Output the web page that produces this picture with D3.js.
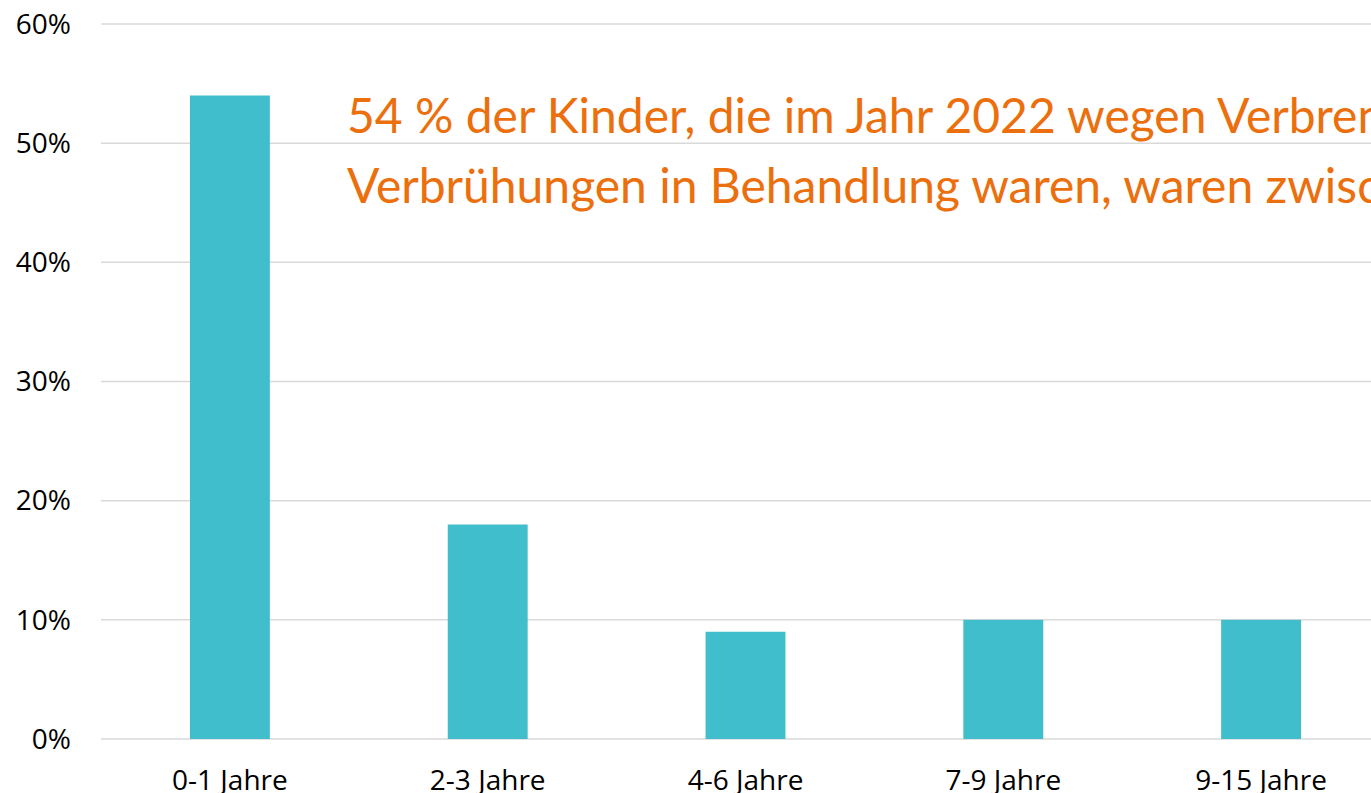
<!DOCTYPE html>
<html>
<head>
<meta charset="utf-8">
<script src="https://cdn.jsdelivr.net/npm/d3@7"></script>
<style>
  html, body { margin: 0; padding: 0; background: #fff; overflow: hidden; }
  svg { display: block; }
</style>
</head>
<body>
<div id="chart"></div>
<script>
// Data
const categories = ["0-1 Jahre", "2-3 Jahre", "4-6 Jahre", "7-9 Jahre", "9-15 Jahre"];
const shares = [54, 18, 9, 10, 10];
const yTicks = [0, 10, 20, 30, 40, 50, 60];
const noteLines = [
    "54 % der Kinder, die im Jahr 2022 wegen Verbrennungen oder",
    "Verbrühungen in Behandlung waren, waren zwischen 0 und 1 Jahre alt."
];

const width = 1371, height = 793;

const svg = d3.select("#chart")
    .append("svg")
    .attr("width", width)
    .attr("height", height);

// Scales
const x = d3.scaleBand()
    .domain(categories)
    .range([101, 1390])
    .paddingInner(0.69)
    .paddingOuter(0.345);

const y = d3.scaleLinear()
    .domain([0, 60])
    .range([739, 24]);

// Grid lines
svg.append("g")
    .selectAll("line")
    .data(yTicks)
    .join("line")
    .attr("x1", 101)
    .attr("x2", width)
    .attr("y1", d => y(d))
    .attr("y2", d => y(d))
    .attr("stroke", "#d9d9d9")
    .attr("stroke-width", 1.5);

// Y axis labels
svg.append("g")
    .selectAll("text")
    .data(yTicks)
    .join("text")
    .attr("x", 71)
    .attr("y", d => y(d))
    .attr("dy", "0.35em")
    .attr("text-anchor", "end")
    .attr("font-family", "'Open Sans', sans-serif")
    .attr("font-size", 28)
    .attr("fill", "#000")
    .text(d => d + "%");

// Bars
svg.append("g")
    .selectAll("rect")
    .data(shares)
    .join("rect")
    .attr("x", (d, i) => x(categories[i]))
    .attr("y", d => y(d))
    .attr("width", x.bandwidth())
    .attr("height", d => y(0) - y(d))
    .attr("fill", "#40BECB");

// X axis labels
svg.append("g")
    .selectAll("text")
    .data(categories)
    .join("text")
    .attr("x", d => x(d) + x.bandwidth() / 2)
    .attr("y", 780)
    .attr("dy", "0.35em")
    .attr("text-anchor", "middle")
    .attr("font-family", "'Open Sans', sans-serif")
    .attr("font-size", 28)
    .attr("fill", "#000")
    .text(d => d);

// Annotation
svg.append("g")
    .selectAll("text")
    .data(noteLines)
    .join("text")
    .attr("x", 347)
    .attr("y", (d, i) => 133 + i * 70)
    .attr("font-family", "Lato, sans-serif")
    .attr("font-size", 48)
    .attr("fill", "#EC6F0E")
    .text(d => d);
</script>
</body>
</html>
